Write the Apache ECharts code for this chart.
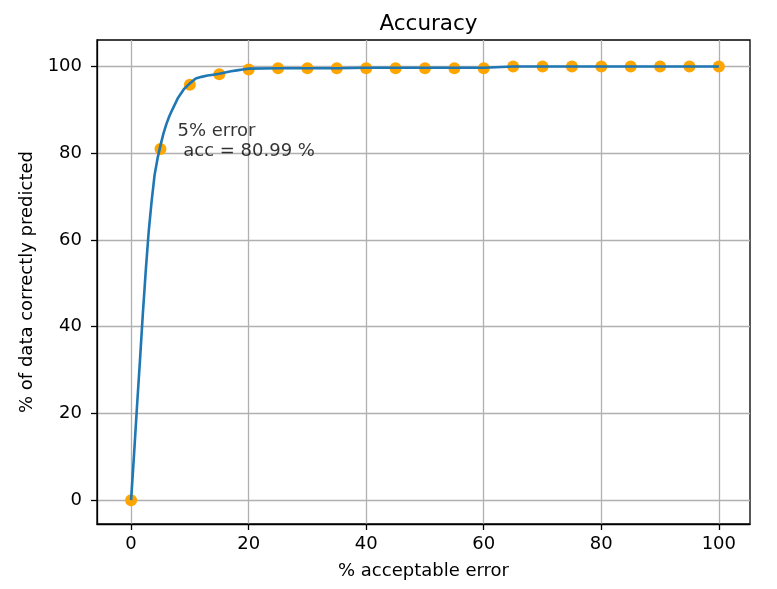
<!DOCTYPE html>
<html>
<head>
<meta charset="utf-8">
<script src="https://cdn.jsdelivr.net/npm/echarts@6/dist/echarts.min.js"></script>
<style>html,body{margin:0;padding:0;background:#fff}#c{width:777px;height:589px}</style>
</head>
<body>
<div id="c"></div>
<script>
// Curve (% acceptable error -> % of data correctly predicted)
const lineX = [0,0.5,1,1.5,2,2.5,3,3.5,4,4.5,5,5.5,6,6.5,7,8,9,10,11,12,13,14,15,16,17,18,19,20,25,30,35,40,45,50,55,60,65,70,75,80,85,90,95,100];
const lineY = [0,10.5,21.5,32,43,53,62,69,75,78.8,81.8,84.5,86.7,88.5,90,92.8,94.8,96.1,97.2,97.6,97.9,98.1,98.3,98.6,98.9,99.1,99.3,99.5,99.6,99.6,99.6,99.7,99.7,99.7,99.7,99.7,100,100,100,100,100,100,100,100];
// Markers every 5%
const markX = [0,5,10,15,20,25,30,35,40,45,50,55,60,65,70,75,80,85,90,95,100];
const markY = [0,80.99,95.8,98.2,99.3,99.6,99.6,99.6,99.6,99.6,99.6,99.6,99.6,100,100,100,100,100,100,100,100];
const xTicks = [0,20,40,60,80,100];
const yTicks = [0,20,40,60,80,100];
const annotation = {x: 7.9, y: 82.7, text: '5% error\n acc = 80.99 %'};

const font = 'DejaVu Sans';
const chart = echarts.init(document.getElementById('c'), null, {renderer: 'canvas'});
const axisCommon = {
  type: 'value',
  axisLine: {show: true, onZero: false, lineStyle: {color: '#000', width: 1.3}},
  axisTick: {show: true, inside: false, length: 6, lineStyle: {color: '#000', width: 1.3}},
  splitLine: {show: true, lineStyle: {color: '#b0b0b0', width: 1.3}},
  nameLocation: 'middle',
  nameTextStyle: {fontFamily: font, fontSize: 18, color: '#000'}
};
chart.setOption({
  animation: false,
  title: {
    text: 'Accuracy', left: 423.5, top: 8, textAlign: 'center',
    textStyle: {fontFamily: font, fontSize: 21.5, fontWeight: 'normal', color: '#000'}
  },
  grid: {left: 97, right: 27, top: 40, bottom: 65, show: true, borderColor: '#000', borderWidth: 1.3, backgroundColor: 'transparent'},
  xAxis: Object.assign({}, axisCommon, {
    min: -5.8, max: 105.3,
    name: '% acceptable error', nameGap: 38,
    axisTick: Object.assign({}, axisCommon.axisTick, {customValues: xTicks}),
    axisLabel: {customValues: xTicks, fontFamily: font, fontSize: 18, color: '#000', margin: 11}
  }),
  yAxis: Object.assign({}, axisCommon, {
    min: -5.5, max: 106.1,
    name: '% of data correctly predicted', nameGap: 55,
    axisTick: Object.assign({}, axisCommon.axisTick, {customValues: yTicks}),
    axisLabel: {customValues: yTicks, fontFamily: font, fontSize: 18, color: '#000', margin: 15}
  }),
  series: [
    {
      type: 'scatter', z: 2,
      data: markX.map((x, i) => [x, markY[i]]),
      symbol: 'circle', symbolSize: 12,
      itemStyle: {color: '#ffa500', opacity: 1}
    },
    {
      type: 'line', z: 3,
      data: lineX.map((x, i) => [x, lineY[i]]),
      showSymbol: false, symbol: 'none',
      lineStyle: {color: '#1f77b4', width: 2.6}
    },
    {
      type: 'scatter', z: 4, silent: true,
      data: [[annotation.x, annotation.y]],
      symbolSize: 0,
      label: {
        show: true, position: 'right', distance: 0,
        formatter: annotation.text,
        fontFamily: font, fontSize: 18, lineHeight: 20, color: '#000', align: 'left', verticalAlign: 'middle'
      }
    }
  ]
});
</script>
</body>
</html>
